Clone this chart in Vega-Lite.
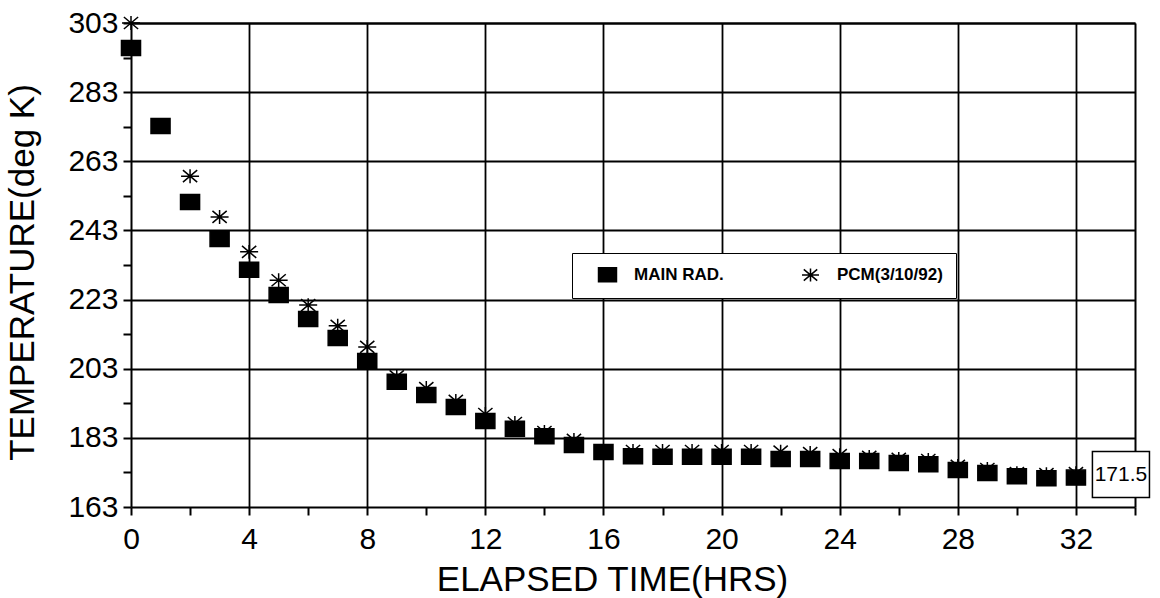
{
  "$schema": "https://vega.github.io/schema/vega-lite/v6.json",
  "autosize": "none",
  "width": 1004,
  "height": 484,
  "padding": {"left": 131, "top": 23, "right": 25, "bottom": 91},
  "background": "white",
  "config": {
    "view": {"stroke": null},
    "font": "Liberation Sans",
    "axis": {
      "labelFont": "Liberation Sans",
      "titleFont": "Liberation Sans",
      "labelColor": "black",
      "titleColor": "black",
      "tickColor": "black",
      "domainColor": "black",
      "gridColor": "black",
      "domainWidth": 2,
      "tickWidth": 2,
      "gridWidth": 1.8,
      "tickSize": 8,
      "labelFontSize": 30,
      "titleFontSize": 35,
      "titleFontWeight": "normal"
    },
    "legend": {
      "orient": "none",
      "legendX": 441,
      "legendY": 230,
      "direction": "horizontal",
      "strokeColor": "black",
      "fillColor": "white",
      "padding": 13,
      "labelFont": "Liberation Sans",
      "labelFontSize": 17,
      "labelFontWeight": "bold",
      "labelColor": "black",
      "symbolSize": 200,
      "symbolFillColor": "black",
      "symbolStrokeColor": "black",
      "symbolStrokeWidth": 1.5,
      "symbolOffset": 14,
      "labelOffset": 18,
      "columnPadding": 64
    }
  },
  "datasets": {
    "temps": [
      {"t": 0, "temp": 303, "series": "PCM(3/10/92)"},
      {"t": 1, "temp": 273.2, "series": "PCM(3/10/92)"},
      {"t": 2, "temp": 258.7, "series": "PCM(3/10/92)"},
      {"t": 3, "temp": 246.9, "series": "PCM(3/10/92)"},
      {"t": 4, "temp": 236.8, "series": "PCM(3/10/92)"},
      {"t": 5, "temp": 228.6, "series": "PCM(3/10/92)"},
      {"t": 6, "temp": 221.4, "series": "PCM(3/10/92)"},
      {"t": 7, "temp": 215.4, "series": "PCM(3/10/92)"},
      {"t": 8, "temp": 209.3, "series": "PCM(3/10/92)"},
      {"t": 9, "temp": 200.8, "series": "PCM(3/10/92)"},
      {"t": 10, "temp": 197.4, "series": "PCM(3/10/92)"},
      {"t": 11, "temp": 193.7, "series": "PCM(3/10/92)"},
      {"t": 12, "temp": 189.9, "series": "PCM(3/10/92)"},
      {"t": 13, "temp": 187.3, "series": "PCM(3/10/92)"},
      {"t": 14, "temp": 184.7, "series": "PCM(3/10/92)"},
      {"t": 15, "temp": 182.4, "series": "PCM(3/10/92)"},
      {"t": 16, "temp": 178.9, "series": "PCM(3/10/92)"},
      {"t": 17, "temp": 179.2, "series": "PCM(3/10/92)"},
      {"t": 18, "temp": 179.2, "series": "PCM(3/10/92)"},
      {"t": 19, "temp": 179.2, "series": "PCM(3/10/92)"},
      {"t": 20, "temp": 179.2, "series": "PCM(3/10/92)"},
      {"t": 21, "temp": 179.2, "series": "PCM(3/10/92)"},
      {"t": 22, "temp": 179.0, "series": "PCM(3/10/92)"},
      {"t": 23, "temp": 178.6, "series": "PCM(3/10/92)"},
      {"t": 24, "temp": 178.0, "series": "PCM(3/10/92)"},
      {"t": 25, "temp": 177.5, "series": "PCM(3/10/92)"},
      {"t": 26, "temp": 176.9, "series": "PCM(3/10/92)"},
      {"t": 27, "temp": 176.6, "series": "PCM(3/10/92)"},
      {"t": 28, "temp": 174.9, "series": "PCM(3/10/92)"},
      {"t": 29, "temp": 174.0, "series": "PCM(3/10/92)"},
      {"t": 30, "temp": 172.8, "series": "PCM(3/10/92)"},
      {"t": 31, "temp": 172.5, "series": "PCM(3/10/92)"},
      {"t": 32, "temp": 172.8, "series": "PCM(3/10/92)"},
      {"t": 0, "temp": 295.8, "series": "MAIN RAD."},
      {"t": 1, "temp": 273.2, "series": "MAIN RAD."},
      {"t": 2, "temp": 251.2, "series": "MAIN RAD."},
      {"t": 3, "temp": 240.5, "series": "MAIN RAD."},
      {"t": 4, "temp": 231.6, "series": "MAIN RAD."},
      {"t": 5, "temp": 224.3, "series": "MAIN RAD."},
      {"t": 6, "temp": 217.4, "series": "MAIN RAD."},
      {"t": 7, "temp": 211.9, "series": "MAIN RAD."},
      {"t": 8, "temp": 205.2, "series": "MAIN RAD."},
      {"t": 9, "temp": 199.2, "series": "MAIN RAD."},
      {"t": 10, "temp": 195.4, "series": "MAIN RAD."},
      {"t": 11, "temp": 191.9, "series": "MAIN RAD."},
      {"t": 12, "temp": 187.9, "series": "MAIN RAD."},
      {"t": 13, "temp": 185.6, "series": "MAIN RAD."},
      {"t": 14, "temp": 183.5, "series": "MAIN RAD."},
      {"t": 15, "temp": 180.9, "series": "MAIN RAD."},
      {"t": 16, "temp": 178.9, "series": "MAIN RAD."},
      {"t": 17, "temp": 177.7, "series": "MAIN RAD."},
      {"t": 18, "temp": 177.5, "series": "MAIN RAD."},
      {"t": 19, "temp": 177.5, "series": "MAIN RAD."},
      {"t": 20, "temp": 177.5, "series": "MAIN RAD."},
      {"t": 21, "temp": 177.5, "series": "MAIN RAD."},
      {"t": 22, "temp": 176.9, "series": "MAIN RAD."},
      {"t": 23, "temp": 176.9, "series": "MAIN RAD."},
      {"t": 24, "temp": 176.3, "series": "MAIN RAD."},
      {"t": 25, "temp": 176.3, "series": "MAIN RAD."},
      {"t": 26, "temp": 175.7, "series": "MAIN RAD."},
      {"t": 27, "temp": 175.4, "series": "MAIN RAD."},
      {"t": 28, "temp": 173.7, "series": "MAIN RAD."},
      {"t": 29, "temp": 172.8, "series": "MAIN RAD."},
      {"t": 30, "temp": 171.9, "series": "MAIN RAD."},
      {"t": 31, "temp": 171.3, "series": "MAIN RAD."},
      {"t": 32, "temp": 171.5, "series": "MAIN RAD."}
    ],
    "note": [
      {"t": 32, "temp": 171.5, "label": "171.5"}
    ]
  },
  "layer": [
    {
      "data": {"name": "temps"},
      "mark": {"type": "point", "filled": true, "strokeWidth": 1.5, "opacity": 1, "size": 225},
      "encoding": {
        "x": {
          "field": "t", "type": "quantitative",
          "scale": {"domain": [0, 34], "nice": false, "zero": false},
          "axis": {
            "title": "ELAPSED TIME(HRS)",
            "orient": "bottom",
            "values": [0, 2, 4, 6, 8, 10, 12, 14, 16, 18, 20, 22, 24, 26, 28, 30, 32, 34],
            "labelExpr": "datum.value % 4 === 0 && datum.value < 34 ? datum.label : ''",
            "grid": true,
            "gridOpacity": {"condition": {"test": "datum.value % 4 === 0 && datum.value > 0", "value": 1}, "value": 0},
            "labelPadding": 9,
            "labelFlush": false,
            "labelOverlap": false,
            "titleX": 481,
            "titleY": 83,
            "titleBaseline": "alphabetic",
            "titleAlign": "center"
          }
        },
        "y": {
          "field": "temp", "type": "quantitative",
          "scale": {"domain": [163, 303], "nice": false, "zero": false},
          "axis": {
            "title": "TEMPERATURE(deg K)",
            "orient": "left",
            "values": [163, 173, 183, 193, 203, 213, 223, 233, 243, 253, 263, 273, 283, 293, 303],
            "labelExpr": "(datum.value - 163) % 20 === 0 ? datum.label : ''",
            "grid": true,
            "gridOpacity": {"condition": {"test": "(datum.value - 163) % 20 === 0 && datum.value > 163", "value": 1}, "value": 0},
            "labelPadding": 5,
            "labelFlush": false,
            "labelOverlap": false,
            "titleX": -98,
            "titleY": 249,
            "titleBaseline": "alphabetic",
            "titleAlign": "center",
            "titleAngle": -90
          }
        },
        "shape": {
          "field": "series", "type": "nominal",
          "scale": {
            "domain": ["MAIN RAD.", "PCM(3/10/92)"],
            "range": ["M-1.27,-1L1.27,-1L1.27,1L-1.27,1Z", "M-1.2,0L1.2,0M0,-0.93L0,0.93M-0.95,-0.8L0.95,0.8M-0.95,0.8L0.95,-0.8"]
          },
          "legend": {"title": null}
        },
        "stroke": {
          "field": "series", "type": "nominal",
          "scale": {"domain": ["MAIN RAD.", "PCM(3/10/92)"], "range": ["black", "black"]},
          "legend": {"title": null}
        },
        "fill": {
          "field": "series", "type": "nominal",
          "scale": {"domain": ["MAIN RAD.", "PCM(3/10/92)"], "range": ["black", "black"]},
          "legend": {"title": null}
        }
      }
    },
    {
      "data": {"name": "note"},
      "mark": {"type": "point", "filled": true, "fill": "white", "stroke": "black", "strokeWidth": 1.5, "opacity": 1, "shape": "M-1.24,-1L1.24,-1L1.24,1L-1.24,1Z", "size": 2116, "xOffset": 45, "yOffset": -3},
      "encoding": {
        "x": {"field": "t", "type": "quantitative", "axis": {"orient": "top", "title": null, "labels": false, "ticks": false, "grid": false, "domain": true}},
        "y": {"field": "temp", "type": "quantitative", "axis": {"orient": "right", "title": null, "labels": false, "ticks": false, "grid": false, "domain": true}}
      }
    },
    {
      "data": {"name": "note"},
      "mark": {"type": "text", "dx": 45, "dy": -3, "font": "Liberation Sans", "fontSize": 21, "color": "black", "align": "center", "baseline": "middle"},
      "encoding": {
        "x": {"field": "t", "type": "quantitative", "axis": null},
        "y": {"field": "temp", "type": "quantitative", "axis": null},
        "text": {"field": "label"}
      }
    }
  ]
}
